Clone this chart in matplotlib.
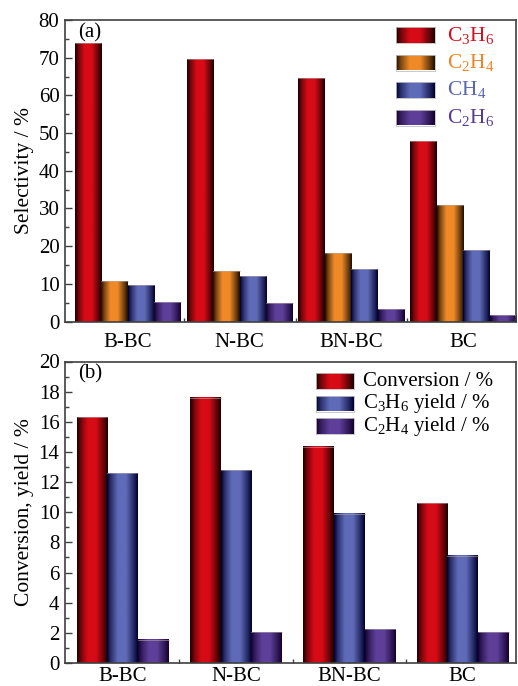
import numpy as np
import matplotlib
matplotlib.use("Agg")
import matplotlib.pyplot as plt
from matplotlib.colors import to_rgb
from matplotlib.ticker import MultipleLocator, FixedLocator

plt.rcParams['font.family'] = ['Liberation Serif', 'DejaVu Serif']
plt.rcParams['mathtext.fontset'] = 'custom'
plt.rcParams['mathtext.rm'] = 'Liberation Serif'
plt.rcParams['mathtext.it'] = 'Liberation Serif:italic'

# data
catalysts = ['B-BC', 'N-BC', 'BN-BC', 'BC']

sel_labels = [r'C$_3$H$_6$', r'C$_2$H$_4$', r'CH$_4$', r'C$_2$H$_6$']
sel_c3h6 = [74.0, 69.7, 64.5, 48.0]
sel_c2h4 = [10.8, 13.3, 18.3, 31.0]
sel_ch4 = [9.7, 12.1, 13.8, 18.9]
sel_c2h6 = [5.3, 4.8, 3.2, 1.8]

perf_labels = ['Conversion / %', r'C$_3$H$_6$ yield / %', r'C$_2$H$_4$ yield / %']
conversion = [16.3, 17.6, 14.35, 10.6]
yield_c3h6 = [12.6, 12.8, 9.9, 7.1]
yield_c2h4 = [1.55, 2.05, 2.25, 2.05]

# bright / dark colour of each shaded bar
RED = ('#d70b16', '#1c0000')
ORANGE = ('#f08a28', '#1e0f00')
BLUE = ('#5f6bb8', '#00002e')
PURPLE = ('#5e3f99', '#14002e')

txt_colors = ['#d5101c', '#ef8526', '#5a66b4', '#553b92']


def shade(colors, n=80):
    bright, dark = np.array(to_rgb(colors[0])), np.array(to_rgb(colors[1]))
    t = np.linspace(0, 1, n)
    k = np.interp(t, [0, 0.12, 0.35, 0.62, 0.88, 1.0], [0.0, 0.45, 1.0, 1.0, 0.35, 0.0])
    rgb = dark[None, :] + (bright - dark)[None, :] * k[:, None]
    return rgb[None, :, :]


def shaded_bars(ax, x, vals, width, colors):
    bars = ax.bar(x, vals, width, color='none', edgecolor='none', zorder=2)
    img = shade(colors)
    for b in bars:
        x0, w, h = b.get_x(), b.get_width(), b.get_height()
        ax.imshow(img, extent=[x0, x0 + w, 0, h], aspect='auto',
                  interpolation='bilinear', zorder=2)
        ax.plot([x0, x0 + w], [h, h], color='#b8a8a8', lw=0.4, zorder=3)
    return bars


def legend_patch(fig, px, py, pw, ph, colors):
    W, H = fig.get_size_inches() * fig.dpi
    lax = fig.add_axes([px / W, 1 - (py + ph / 2) / H, pw / W, ph / H])
    lax.imshow(shade(colors), extent=[0, 1, 0, 1], aspect='auto', interpolation='bilinear')
    lax.set_xticks([])
    lax.set_yticks([])
    for s in lax.spines.values():
        s.set_color('#c0c0c0')
        s.set_linewidth(0.6)


def style_axes(ax, xpad):
    for s in ax.spines.values():
        s.set_color('#404040')
        s.set_linewidth(1.2)
    ax.tick_params(which='both', direction='in', colors='#404040', labelcolor='black',
                   labelsize=15, width=1.0)
    ax.tick_params(which='major', length=5)
    ax.tick_params(which='minor', length=3)
    ax.tick_params(axis='x', pad=xpad)
    ax.tick_params(axis='y', pad=4)


fig = plt.figure(figsize=(5.18, 6.86), dpi=100)
W, H = 518, 686

x = np.arange(len(catalysts))

# (a) selectivity
ax1 = fig.add_axes([65 / W, 1 - 321.5 / H, 451 / W, 301.5 / H])
w1 = 0.237
for j, (vals, cols) in enumerate(zip([sel_c3h6, sel_c2h4, sel_ch4, sel_c2h6],
                                     [RED, ORANGE, BLUE, PURPLE])):
    shaded_bars(ax1, x + (j - 1.5) * w1, vals, w1, cols)
ax1.set_xlim(-0.56, 3.47)
ax1.set_ylim(0, 80)
ax1.yaxis.set_major_locator(MultipleLocator(10))
ax1.yaxis.set_minor_locator(MultipleLocator(5))
ax1.set_xticks(x)
ax1.set_xticklabels(catalysts)
ax1.xaxis.set_minor_locator(FixedLocator(x[:-1] + 0.5))
ax1.set_ylabel('Selectivity / %', fontsize=15.5, labelpad=3)
style_axes(ax1, 8)
ax1.text(0.028, 0.99, '(a)', transform=ax1.transAxes, fontsize=15, va='top')

# (b) conversion and yields
ax2 = fig.add_axes([65 / W, 1 - 663 / H, 451 / W, 301.5 / H])
w2 = 0.271
for j, (vals, cols) in enumerate(zip([conversion, yield_c3h6, yield_c2h4],
                                     [RED, BLUE, PURPLE])):
    shaded_bars(ax2, x + (j - 1) * w2, vals, w2, cols)
ax2.set_xlim(-0.51, 3.47)
ax2.set_ylim(0, 20)
ax2.yaxis.set_major_locator(MultipleLocator(2))
ax2.yaxis.set_minor_locator(MultipleLocator(1))
ax2.set_xticks(x)
ax2.set_xticklabels(catalysts)
ax2.xaxis.set_minor_locator(FixedLocator(x[:-1] + 0.5))
ax2.set_ylabel('Conversion, yield / %', fontsize=15.5, labelpad=3)
style_axes(ax2, 3)
ax2.text(0.028, 0.99, '(b)', transform=ax2.transAxes, fontsize=15, va='top')

# legends
for i, (lab, cols) in enumerate(zip(sel_labels, [RED, ORANGE, BLUE, PURPLE])):
    yy = 35 + i * 27.5
    legend_patch(fig, 396, yy, 39, 16, cols)
    fig.text(447 / W, 1 - yy / H, lab, fontsize=15.5, color=txt_colors[i], va='center')

for i, (lab, cols) in enumerate(zip(perf_labels, [RED, BLUE, PURPLE])):
    yy = 381 + i * 22.5
    legend_patch(fig, 316, yy, 38, 16, cols)
    fig.text(363 / W, 1 - yy / H, lab, fontsize=15, color='black', va='center')

fig.savefig('out.png', dpi=100)
